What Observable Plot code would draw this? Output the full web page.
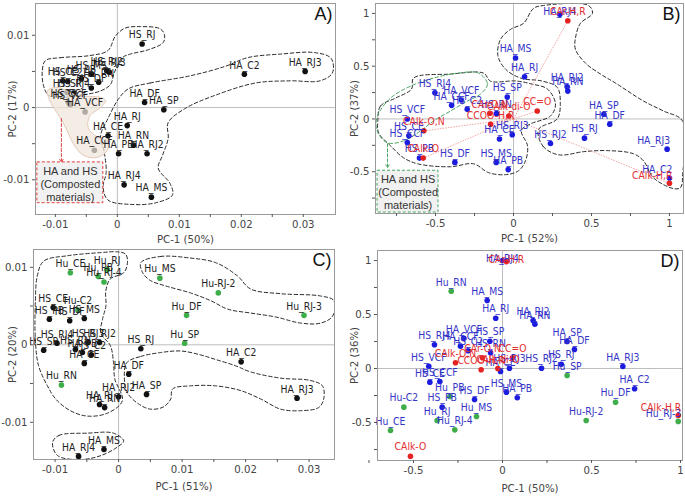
<!DOCTYPE html>
<html><head><meta charset="utf-8">
<script src="https://cdn.jsdelivr.net/npm/d3@7"></script>
<script src="https://cdn.jsdelivr.net/npm/@observablehq/plot@0.6"></script>
<style>
body{margin:0;background:#fff;}
#wrap{position:relative;width:685px;height:496px;overflow:hidden;background:#fff;}
#wrap svg{position:absolute;max-width:none !important;}
</style></head><body><div id="wrap"></div>
<script>
// ---------- Panel A (HA / HS, PC-1 50%, PC-2 17%) ----------
const aNames = ["HS_RJ","HS_CE","HS_C2","HS_PB","HS_MS","HS_RJ2","HS_RJ3","HS_RN","HS_DF","HS_SP","HS_RJ4","HS_CCF","HS_VCF",
  "HA_DF","HA_SP","HA_C2","HA_RJ3","HA_RJ","HA_CE","HA_RN","HA_PB","HA_RJ2","HA_CCF","HA_VCF","HA_RJ4","HA_MS"];
const aPC1 = [0.0040,-0.0088,-0.0080,-0.0058,-0.0042,-0.0017,-0.0013,-0.0030,-0.0042,-0.0081,-0.0070,-0.0079,-0.0076,
  0.0044,0.0075,0.0205,0.0303,0.0016,-0.0015,0.0026,0.0002,0.0048,-0.0037,-0.0052,0.0011,0.0055];
const aPC2 = [0.0088,0.0037,0.0036,0.0040,0.0046,0.0051,0.0049,0.0035,0.0027,0.0021,0.0020,0.0007,0.0004,
  0.0007,-0.0003,0.0046,0.0050,-0.0025,-0.0039,-0.0052,-0.0064,-0.0064,-0.0059,-0.0006,-0.0107,-0.0124];
const aOutlineHS = [[-0.0116,0.0065],[-0.0092,0.0069],[-0.0044,0.0072],[-0.0015,0.0079],[-0.0003,0.0099],[0.0013,0.0110],[0.0037,0.0112],[0.0069,0.0109],[0.0076,0.0101],[0.0074,0.0090],[0.0050,0.0080],[0.0021,0.0074],[0.0008,0.0069],[-0.0005,0.0048],[-0.0011,0.0032],[-0.0027,0.0023],[-0.0060,0.0017],[-0.0092,0.0014],[-0.0111,0.0017],[-0.0119,0.0030],[-0.0121,0.0051]];
const aOutlineHA = [[0.0018,0.0026],[0.0053,0.0034],[0.0118,0.0044],[0.0174,0.0057],[0.0210,0.0069],[0.0263,0.0074],[0.0319,0.0076],[0.0345,0.0068],[0.0347,0.0048],[0.0327,0.0037],[0.0279,0.0037],[0.0223,0.0034],[0.0158,0.0017],[0.0110,-0.0001],[0.0082,-0.0021],[0.0082,-0.0043],[0.0073,-0.0066],[0.0066,-0.0084],[0.0085,-0.0105],[0.0089,-0.0121],[0.0061,-0.0132],[0.0021,-0.0134],[-0.0015,-0.0128],[-0.0023,-0.0110],[-0.0018,-0.0090],[-0.0021,-0.0062],[-0.0027,-0.0039],[-0.0015,-0.0015],[0.0002,0.0012]];
const aShade = [[-0.0113,0.0023],[-0.0097,0.0028],[-0.0065,0.0017],[-0.0027,0.0014],[-0.0019,0.0010],[-0.0027,0.0000],[-0.0044,-0.0011],[-0.0047,-0.0028],[-0.0032,-0.0041],[-0.0016,-0.0046],[-0.0016,-0.0059],[-0.0032,-0.0069],[-0.0055,-0.0066],[-0.0071,-0.0050],[-0.0081,-0.0032],[-0.0092,-0.0014],[-0.0103,0.0000],[-0.0111,0.0014]];
const aNote = {x1:-0.0129, x2:-0.00226, y1:-0.00759, y2:-0.01324, tx:-0.00758, ty:-0.01055, ax:-0.00903, ay1:-0.00152, ay2:-0.00759};

// ---------- Panel B (PC-1 52%, PC-2 37%) ----------
const bNames = ["HS_RJ4","HA_VCF","HA_CCF","HS_C2","HS_VCF","HS_CE","HS_CCF","HS_PB","HS_DF","HS_MS","HA_PB","HA_CE","HS_RJ3","HS_RN","HS_SP","HA_RJ","HA_MS","HA_RJ4","HA_RJ2","HA_RN","HA_SP","HA_DF","HS_RJ2","HS_RJ","HA_RJ3","HA_C2"];
const bPC1 = [-0.504,-0.335,-0.397,-0.297,-0.681,-0.671,-0.681,-0.603,-0.376,-0.111,-0.034,-0.09,-0.008,-0.109,-0.04,0.071,0.013,0.297,0.344,0.348,0.579,0.617,0.237,0.455,0.985,1.0];
const bPC2 = [0.248,0.179,0.129,0.091,0.0,-0.16,-0.224,-0.371,-0.412,-0.412,-0.48,-0.19,-0.15,0.05,0.207,0.40,0.578,0.993,0.305,0.264,0.044,-0.05,-0.233,-0.182,-0.286,-0.56];
const bGroupNames = ["CAr-H,R","CC=O","CAlk-H,R","CAlk-O,N","CAlk-O","CAr-O,N","CCOO-H,R","CAlk-di-O"];
const bGroupPC1 = [0.348,0.152,1.0,-0.575,-0.579,-0.152,-0.147,-0.03];
const bGroupPC2 = [0.931,0.075,-0.61,-0.113,-0.371,0.054,-0.05,0.028];
const bOutlineHS = [[-0.87,-0.019],[-0.853,0.123],[-0.756,0.198],[-0.654,0.283],[-0.641,0.387],[-0.404,0.425],[-0.192,0.434],[-0.147,0.358],[0.013,0.36],[0.12,0.33],[0.218,0.283],[0.269,0.142],[0.237,0.028],[0.109,-0.047],[0.05,-0.11],[0.090,-0.255],[0.077,-0.396],[0.032,-0.491],[-0.051,-0.528],[-0.160,-0.509],[-0.256,-0.425],[-0.404,-0.453],[-0.615,-0.425],[-0.705,-0.368],[-0.788,-0.255],[-0.865,-0.132]];
const bOutlineHA = [[0.16,-0.10],[0.19,-0.26],[0.29,-0.34],[0.45,-0.31],[0.60,-0.30],[0.769,-0.33],[0.833,-0.396],[0.897,-0.557],[1.026,-0.66],[1.071,-0.651],[1.085,-0.519],[1.083,-0.019],[0.962,0.075],[0.833,0.17],[0.654,0.34],[0.558,0.425],[0.462,0.528],[0.397,0.66],[0.397,0.764],[0.429,0.906],[0.506,1.0],[0.481,1.075],[0.192,1.075],[0.128,1.047],[0.064,0.906],[-0.019,0.849],[-0.083,0.755],[-0.10,0.60],[-0.05,0.47],[0.05,0.385],[0.18,0.36],[0.28,0.30],[0.30,0.15],[0.28,0.0]];
const bOutlineComposted = [[-0.224,0.434],[-0.167,0.330],[-0.212,0.236],[-0.295,0.170],[-0.404,0.075],[-0.513,-0.019],[-0.596,-0.113],[-0.705,-0.208],[-0.808,-0.226],[-0.875,-0.113],[-0.872,0.028],[-0.788,0.198],[-0.660,0.311],[-0.513,0.387],[-0.359,0.434]];
const bNote = {x1:-0.872, x2:-0.481, y1:-0.491, y2:-0.887, tx:-0.676, ty:-0.689, ax:-0.808, ay1:-0.236, ay2:-0.462};

// ---------- Panel C (PC-1 51%, PC-2 20%) ----------
const cHuNames = ["Hu_CE","Hu_RJ","Hu_PB","Hu_RJ-4","Hu_MS","Hu-C2","Hu_RN","Hu-RJ-2","Hu_DF","Hu_SP","Hu_RJ-3"];
const cHuPC1 = [-0.0076,-0.0018,-0.0032,-0.0023,0.0065,-0.0064,-0.0090,0.0157,0.0107,0.0104,0.0292];
const cHuPC2 = [0.0093,0.0097,0.0088,0.0081,0.0086,0.0045,-0.0052,0.0067,0.0038,0.0002,0.0038];
const cNames = ["HA_C2","HA_RJ3","HS_RJ","HA_DF","HA_SP","HA_RJ2","HA_RJ","HA_RN","HA_MS","HA_RJ4","HS_CE","HS_PB","HS_DF","HS_MS","HS_SP","HS_RJ4","HS_RN","HA_PB","HA_CE","HS_RJ3","HS_C2","HS_RJ2"];
const cPC1 = [0.0193,0.0281,0.0035,0.0016,0.0044,0.0,-0.0030,-0.0022,-0.0023,-0.0063,-0.0103,-0.0109,-0.0077,-0.0054,-0.0118,-0.0097,-0.0068,-0.0057,-0.0054,-0.0048,-0.0043,-0.0030];
const cPC2 = [-0.0022,-0.0069,-0.0005,-0.0038,-0.0064,-0.0067,-0.0077,-0.0081,-0.0135,-0.0144,0.0048,0.0033,0.0031,0.0034,-0.0007,0.0002,-0.0006,-0.0010,-0.0024,0.0003,-0.0013,0.0003];
const cOutlineLeft = [[-0.0118,0.0108],[-0.0080,0.0115],[-0.0028,0.0119],[-0.0002,0.0120],[0.0011,0.0117],[0.0014,0.0106],[0.0008,0.0093],[-0.0013,0.0085],[-0.0020,0.0070],[-0.0020,0.0050],[-0.0025,0.0034],[-0.0028,0.0015],[-0.0013,-0.0001],[-0.0008,-0.0023],[-0.0006,-0.0044],[0.0006,-0.0072],[-0.0017,-0.0088],[-0.0049,-0.0092],[-0.0076,-0.0085],[-0.0099,-0.0070],[-0.0112,-0.0053],[-0.0126,-0.0027],[-0.0131,0.0005],[-0.0131,0.0057],[-0.0128,0.0089]];
const cOutlineLow = [[-0.0104,-0.0126],[-0.0094,-0.0117],[-0.0049,-0.0114],[-0.0008,-0.0114],[0.0008,-0.0124],[-0.0002,-0.0132],[-0.0028,-0.0143],[-0.0060,-0.0148],[-0.0096,-0.0143]];
const cOutlineHA = [[0.0013,-0.0023],[0.0035,-0.0015],[0.0066,-0.0010],[0.0098,-0.0008],[0.0129,-0.0013],[0.0153,-0.0019],[0.0184,-0.0027],[0.0208,-0.0035],[0.0255,-0.0043],[0.0302,-0.0046],[0.0321,-0.0053],[0.0323,-0.0070],[0.0315,-0.0081],[0.0287,-0.0085],[0.0255,-0.0083],[0.0224,-0.0070],[0.0192,-0.0059],[0.0153,-0.0053],[0.0113,-0.0053],[0.0085,-0.0057],[0.0082,-0.0070],[0.0071,-0.0080],[0.0050,-0.0083],[0.0031,-0.0076],[0.0014,-0.0062],[0.0009,-0.0040]];
const cOutlineHu = [[0.0035,0.0106],[0.0066,0.0114],[0.0113,0.0112],[0.0153,0.0106],[0.0187,0.0089],[0.0208,0.0072],[0.0255,0.0066],[0.0318,0.0063],[0.0339,0.0057],[0.0337,0.0037],[0.0318,0.0028],[0.0287,0.0028],[0.0247,0.0036],[0.0208,0.0041],[0.0172,0.0046],[0.0145,0.0057],[0.0113,0.0067],[0.0074,0.0076],[0.0050,0.0083],[0.0038,0.0093]];

// ---------- Panel D (PC-1 50%, PC-2 36%) ----------
const dBlueNames = ["HA_RJ4","HA_MS","HA_RJ","HA_RJ2","HA_RN","HA_SP","HA_DF","HA_RJ3","HA_C2","HS_RJ2","HS_RJ","HS_RJ3","HA_CE","HS_MS","HA_PB","HA_VCF","HS_SP","HA_CCF","HS_C2","HS_RN","HS_RJ4","HS_VCF","HS_CE","HS_CCF","HS_PB","HS_DF"];
const dBluePC1 = [0.0,-0.086,-0.038,0.172,0.182,0.363,0.404,0.676,0.742,0.219,0.33,0.039,-0.011,0.022,0.083,-0.217,-0.071,-0.236,-0.193,-0.067,-0.382,-0.414,-0.408,-0.352,-0.339,-0.157];
const dBluePC2 = [1.0,0.63,0.466,0.444,0.41,0.25,0.176,0.018,-0.188,0.003,0.04,0.003,-0.028,-0.22,-0.271,0.28,0.253,0.207,0.164,0.145,0.22,0.021,-0.127,-0.12,-0.358,-0.287];
const dGreenNames = ["Hu_RN","Hu-C2","Hu_CE","Hu_RJ","Hu_RJ-4","Hu_PB","Hu_MS","Hu_SP","Hu_DF","Hu-RJ-2","Hu_RJ-3"];
const dGreenPC1 = [-0.288,-0.554,-0.629,-0.367,-0.268,-0.296,-0.146,0.363,0.635,0.47,0.987];
const dGreenPC2 = [0.716,-0.358,-0.574,-0.481,-0.568,-0.259,-0.444,-0.065,-0.312,-0.481,-0.49];
const dRedNames = ["CAr-H,R","CAlk-O,N","CCOO-H,R","CAlk-di-O","CAr-O,N","CC=O","CAlk-O","CAlk-H,R"];
const dRedPC1 = [0.022,-0.264,-0.12,-0.026,-0.112,0.056,-0.517,0.987];
const dRedPC2 = [0.99,0.053,-0.012,0.0,0.10,0.10,-0.812,-0.435];

// ---------- Axis ticks ----------
const smallTicks = [-0.01, 0, 0.01, 0.02, 0.03];
const smallMinor = [-0.005, 0.005, 0.015, 0.025];
const smallYTicks = [-0.01, 0, 0.01];
const smallYMinor = [-0.005, 0.005];
const unitTicks = [-0.5, 0, 0.5, 1];
const unitMinor = [-0.75, -0.25, 0.25, 0.75];

// ---------- helpers ----------
function pickNarrow() {
  const c = document.createElement("canvas").getContext("2d");
  const t = "HA_RJ3 0.01 PC-1 (50%)";
  c.font = "20px monospace"; const base = c.measureText(t).width;
  for (const f of ["Liberation Sans Narrow", "Arial Narrow"]) {
    c.font = `20px '${f}', monospace`;
    if (Math.abs(c.measureText(t).width - base) > 0.5) return [f, 11.5, 12.5];
  }
  for (const f of ["DejaVu Sans Condensed"]) {
    c.font = `20px '${f}', monospace`;
    if (Math.abs(c.measureText(t).width - base) > 0.5) return [f, 10.3, 11.3];
  }
  return ["Liberation Sans", 10, 11];
}
const [NARROW, LBL, TCK] = pickNarrow();
const NFAM = `'${NARROW}', 'Liberation Sans', Arial, sans-serif`;
const RFAM = `'Liberation Sans', Arial, sans-serif`;

const rows = (names, xs, ys) => names.map((name, i) => ({name, x: xs[i], y: ys[i]}));
const fmt = d => (d === 0 ? "0" : String(d));
const BLACK = "#111", BLUE = "#1c1ce0", BLUET = "#3434c8", RED = "#e52222", REDT = "#e33030", GREEN = "#3fae4a";
const px = d => d[0], py = d => d[1];

function outline(data, stroke = "#2a2a2a") {
  return Plot.line(data, {x: px, y: py, curve: "catmull-rom-closed", stroke, strokeWidth: 1, strokeDasharray: "3.5,2.5", clip: true});
}
function dots(data, fill) { return Plot.dot(data, {x: "x", y: "y", r: 2.8, fill, stroke: null}); }
// labels sit above their point; near the right edge they are right-aligned, near the top they sit on the point
function labels(data, fill, edge = Infinity, top = Infinity) {
  const mid = data.filter(d => d.x < edge && d.y < top);
  const right = data.filter(d => d.x >= edge);
  const high = data.filter(d => d.x < edge && d.y >= top);
  return [
    Plot.text(mid, {x: "x", y: "y", text: "name", dy: -9, fontSize: LBL, fill}),
    Plot.text(right, {x: "x", y: "y", text: "name", dy: -8, dx: 3, textAnchor: "end", fontSize: LBL, fill}),
    Plot.text(high, {x: "x", y: "y", text: "name", dy: -2, fontSize: LBL, fill})
  ];
}
function note(n, color) {
  return [
    Plot.arrow([n], {x1: () => n.ax, x2: () => n.ax, y1: () => n.ay1, y2: () => n.ay2, stroke: color, strokeWidth: 1, strokeDasharray: "3,2", headLength: 5}),
    Plot.rect([n], {x1: "x1", x2: "x2", y1: "y1", y2: "y2", fill: "#f1f1f1", stroke: color, strokeWidth: 1, strokeDasharray: "3,2"}),
    Plot.text([n], {x: "tx", y: "ty", text: () => "HA and HS\n(Composted\nmaterials)", lineHeight: 1.2, fontSize: 11, fill: "#333", fontFamily: RFAM})
  ];
}

function panel(o) {
  const fig = Plot.plot({
    width: o.w, height: o.h,
    marginTop: o.m[0], marginRight: o.m[1], marginBottom: o.m[2], marginLeft: o.m[3],
    x: {domain: o.xd, label: null},
    y: {domain: o.yd, label: null},
    style: {fontFamily: NFAM, background: "transparent", color: "#333", overflow: "visible"},
    marks: [
      Plot.ruleX([0], {stroke: "#bdbdbd"}),
      Plot.ruleY([0], {stroke: "#bdbdbd"}),
      ...o.marks,
      Plot.frame({stroke: "#9a9a9a"}),
      Plot.axisX(o.xm, {tickSize: 3, stroke: "#555", tickFormat: () => "", label: null}),
      Plot.axisX(o.xt, {tickSize: 3, tickPadding: 2, stroke: "#555", fill: "#444", fontSize: TCK, tickFormat: fmt,
        label: o.xl, labelAnchor: "center", labelOffset: o.xo, labelArrow: "none"}),
      Plot.axisY(o.ym, {tickSize: 3, stroke: "#555", tickFormat: () => "", label: null}),
      Plot.axisY(o.yt, {tickSize: 3, tickPadding: 3, stroke: "#555", fill: "#444", fontSize: TCK, tickFormat: fmt,
        label: o.yl, labelAnchor: "center", labelOffset: o.yo, labelArrow: "none"}),
      Plot.text([o.letter], {frameAnchor: "top-right", textAnchor: "end", lineAnchor: "top", dx: -3, dy: 4, fontSize: 18, fill: "#111", fontFamily: RFAM})
    ]
  });
  fig.style.left = o.left + "px";
  fig.style.top = o.top + "px";
  document.getElementById("wrap").appendChild(fig);
}

// ---------- Panel A ----------
const aData = rows(aNames, aPC1, aPC2);
panel({
  left: 0, top: 0, w: 340, h: 245, m: [3, 5, 31, 35],
  xd: [-0.0132, 0.0352], yd: [-0.0148, 0.0144],
  xt: smallTicks, xm: smallMinor, yt: smallYTicks, ym: smallYMinor,
  xl: "PC-1 (50%)", yl: "PC-2 (17%)", xo: 28, yo: 28, letter: "A)",
  marks: [
    outline(aOutlineHS), outline(aOutlineHA),
    dots(aData, BLACK),
    Plot.line(aShade, {x: px, y: py, curve: "catmull-rom-closed", fill: "#efe6dc", fillOpacity: 0.72, stroke: "#e4c9b8", strokeWidth: 1}),
    ...labels(aData, "#222"),
    ...note(aNote, "#e03b3b")
  ]
});

// ---------- Panel B ----------
const bData = rows(bNames, bPC1, bPC2);
const bGroups = rows(bGroupNames, bGroupPC1, bGroupPC2);
panel({
  left: 340, top: 0, w: 345, h: 245, m: [3, 2, 32, 35],
  xd: [-0.885, 1.09], yd: [-0.896, 1.094],
  xt: unitTicks, xm: unitMinor, yt: unitTicks, ym: unitMinor,
  xl: "PC-1 (52%)", yl: "PC-2 (37%)", xo: 28, yo: 26, letter: "B)",
  marks: [
    outline(bOutlineHS), outline(bOutlineHA), outline(bOutlineComposted, "#4aa564"),
    Plot.link(bGroups, {x1: () => 0, y1: () => 0, x2: "x", y2: "y", stroke: "#ef9a9a", strokeWidth: 0.9, strokeDasharray: "1.5,1.2"}),
    dots(bData, BLUE), dots(bGroups, RED),
    ...labels(bData, BLUET, 0.95, 0.96), ...labels(bGroups, REDT, 0.95),
    ...note(bNote, "#4aa564")
  ]
});

// ---------- Panel C ----------
const cHu = rows(cHuNames, cHuPC1, cHuPC2);
const cData = rows(cNames, cPC1, cPC2);
panel({
  left: 0, top: 245, w: 340, h: 251, m: [4, 6, 37, 33],
  xd: [-0.0134, 0.0340], yd: [-0.0148, 0.0123],
  xt: smallTicks, xm: smallMinor, yt: smallYTicks, ym: smallYMinor,
  xl: "PC-1 (51%)", yl: "PC-2 (20%)", xo: 30, yo: 26, letter: "C)",
  marks: [
    outline(cOutlineLeft), outline(cOutlineLow), outline(cOutlineHA), outline(cOutlineHu),
    dots(cData, BLACK), dots(cHu, GREEN),
    ...labels(cData, "#222"), ...labels(cHu, "#222")
  ]
});

// ---------- Panel D ----------
const dBlue = rows(dBlueNames, dBluePC1, dBluePC2);
const dGreen = rows(dGreenNames, dGreenPC1, dGreenPC2);
const dRed = rows(dRedNames, dRedPC1, dRedPC2);
panel({
  left: 340, top: 245, w: 345, h: 251, m: [5, 3, 36, 37],
  xd: [-0.702, 1.011], yd: [-0.852, 1.093],
  xt: unitTicks, xm: unitMinor, yt: unitTicks, ym: unitMinor,
  xl: "PC-1 (50%)", yl: "PC-2 (36%)", xo: 31, yo: 28, letter: "D)",
  marks: [
    dots(dBlue, BLUE), dots(dGreen, GREEN), dots(dRed, RED),
    ...labels(dBlue, BLUET, 0.95, 0.96), ...labels(dGreen, BLUET, 0.95), ...labels(dRed, REDT, 0.95, 0.96)
  ]
});
</script></body></html>
